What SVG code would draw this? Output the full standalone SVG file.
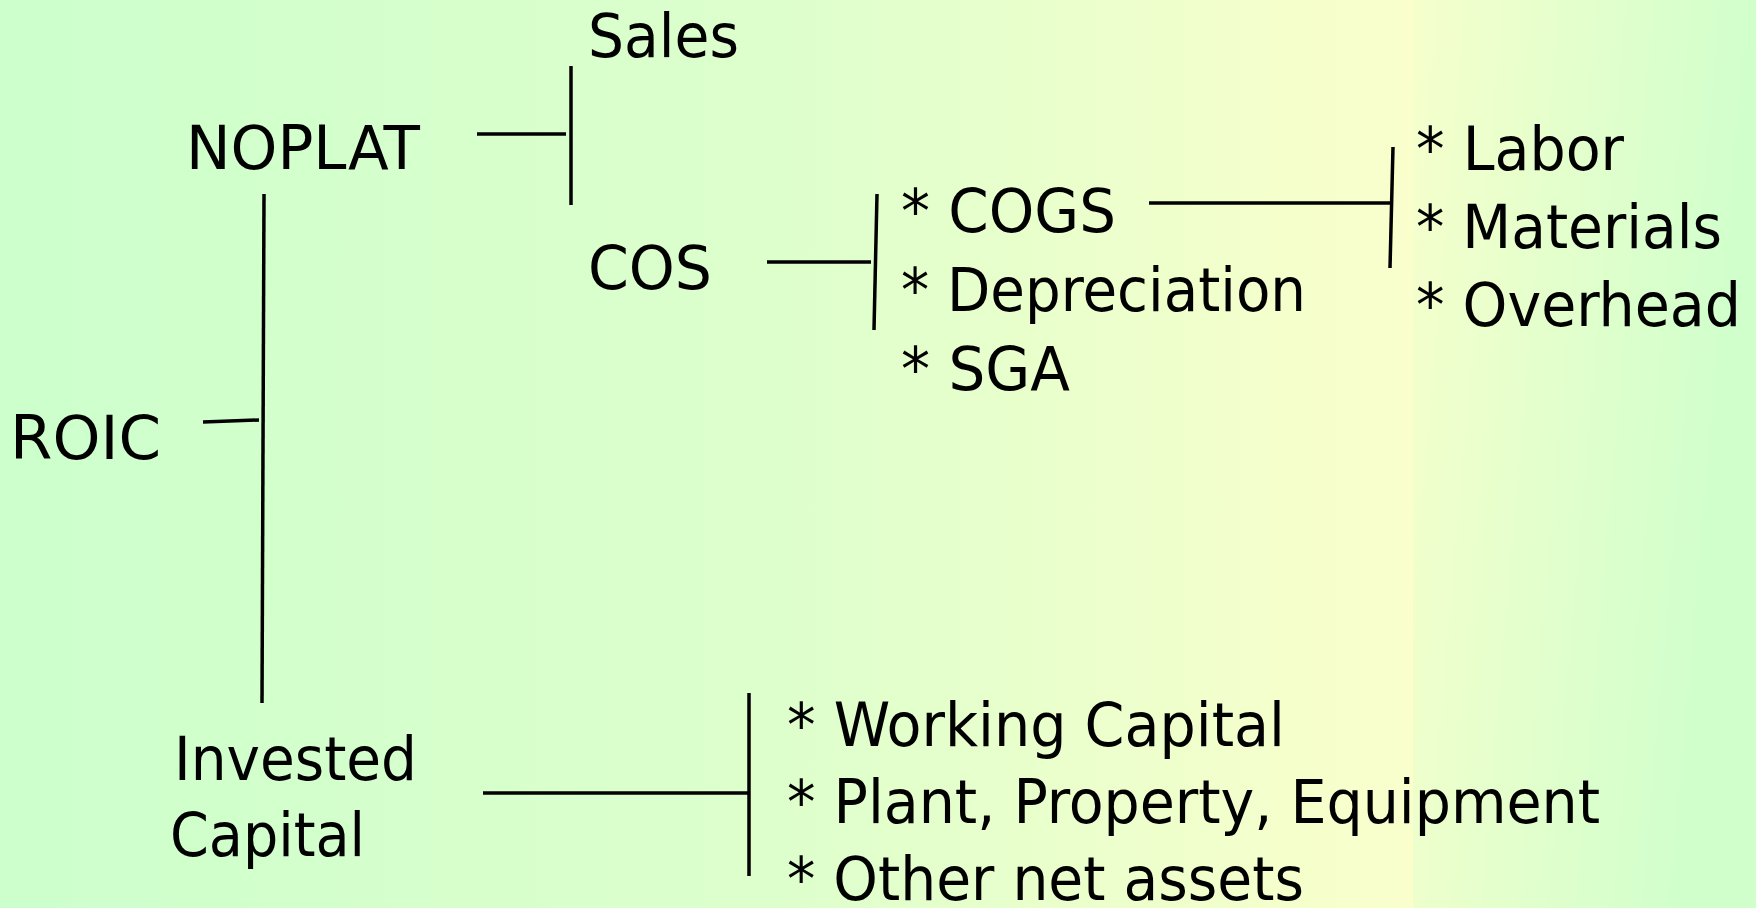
<svg xmlns="http://www.w3.org/2000/svg" width="1756" height="908" viewBox="0 0 1756 908">
  <defs>
    <!-- slide background: green to pale yellow, then back to green on the right band -->
    <linearGradient id="bgMain" gradientUnits="userSpaceOnUse" x1="0" y1="0" x2="1414" y2="0">
      <stop offset="0" stop-color="#CCFFCC"/>
      <stop offset="0.55" stop-color="#DDFFCC"/>
      <stop offset="1" stop-color="#FAFFCC"/>
    </linearGradient>
    <linearGradient id="bgRight" gradientUnits="userSpaceOnUse" x1="1414" y1="0" x2="1760" y2="30">
      <stop offset="0" stop-color="#F5FFCC"/>
      <stop offset="1" stop-color="#D0FFCC"/>
    </linearGradient>
    <style>
      .lbl { font-family: "DejaVu Sans", "Liberation Sans", sans-serif; font-stretch: condensed; font-size: 61px; fill: #000; }
      .ln { stroke: #000; stroke-width: 3.5; fill: none; stroke-linecap: butt; }
    </style>
  </defs>

  <rect x="0" y="0" width="1414" height="908" fill="url(#bgMain)"/>
  <rect x="1413" y="0" width="343" height="908" fill="url(#bgRight)"/>

  <!-- connectors -->
  <g id="connectors">
    <!-- ROIC splits into NOPLAT and Invested Capital -->
    <line class="ln" x1="203" y1="422" x2="259" y2="420"/>
    <line class="ln" x1="264" y1="194" x2="262" y2="703"/>
    <!-- NOPLAT splits into Sales and COS -->
    <line class="ln" x1="477" y1="134" x2="566" y2="134"/>
    <line class="ln" x1="571" y1="66" x2="571" y2="205"/>
    <!-- COS breakdown -->
    <line class="ln" x1="767" y1="262" x2="871" y2="262"/>
    <line class="ln" x1="877" y1="194" x2="874" y2="330"/>
    <!-- COGS breakdown -->
    <line class="ln" x1="1149" y1="203" x2="1390" y2="203"/>
    <line class="ln" x1="1393" y1="147" x2="1390" y2="268"/>
    <!-- Invested Capital breakdown -->
    <line class="ln" x1="483" y1="793" x2="748" y2="793"/>
    <line class="ln" x1="749" y1="693" x2="749" y2="876"/>
  </g>

  <g id="roic">
    <text class="lbl" x="10" y="459" textLength="151" lengthAdjust="spacingAndGlyphs">ROIC</text>
  </g>
  <g id="noplat">
    <text class="lbl" x="186" y="169" textLength="234" lengthAdjust="spacingAndGlyphs">NOPLAT</text>
  </g>
  <g id="invested-capital">
    <text class="lbl" x="174" y="780" textLength="243" lengthAdjust="spacingAndGlyphs">Invested</text>
    <text class="lbl" x="170" y="856" textLength="195" lengthAdjust="spacingAndGlyphs">Capital</text>
  </g>
  <g id="sales">
    <text class="lbl" x="588" y="57" textLength="151" lengthAdjust="spacingAndGlyphs">Sales</text>
  </g>
  <g id="cos">
    <text class="lbl" x="588" y="289" textLength="124" lengthAdjust="spacingAndGlyphs">COS</text>
  </g>
  <g id="cos-items">
    <text class="lbl" x="901" y="232" textLength="215" lengthAdjust="spacingAndGlyphs">* COGS</text>
    <text class="lbl" x="901" y="311" textLength="405" lengthAdjust="spacingAndGlyphs">* Depreciation</text>
    <text class="lbl" x="901" y="390" textLength="169" lengthAdjust="spacingAndGlyphs">* SGA</text>
  </g>
  <g id="cogs-items">
    <text class="lbl" x="1416" y="170" textLength="208" lengthAdjust="spacingAndGlyphs">* Labor</text>
    <text class="lbl" x="1416" y="248" textLength="306" lengthAdjust="spacingAndGlyphs">* Materials</text>
    <text class="lbl" x="1416" y="326" textLength="325" lengthAdjust="spacingAndGlyphs">* Overhead</text>
  </g>
  <g id="capital-items">
    <text class="lbl" x="787" y="746" textLength="498" lengthAdjust="spacingAndGlyphs">* Working Capital</text>
    <text class="lbl" x="787" y="823" textLength="813" lengthAdjust="spacingAndGlyphs">* Plant, Property, Equipment</text>
    <text class="lbl" x="787" y="900" textLength="517" lengthAdjust="spacingAndGlyphs">* Other net assets</text>
  </g>
</svg>
